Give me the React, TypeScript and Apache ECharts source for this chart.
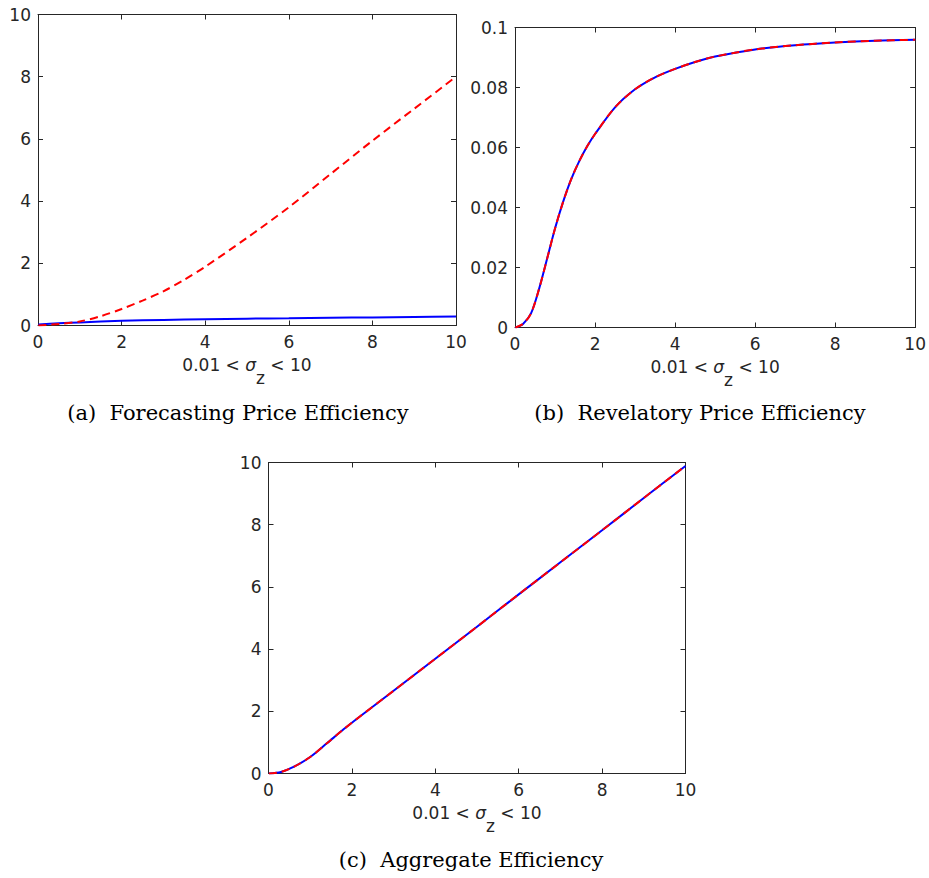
import React, { useEffect, useRef } from 'react';
import * as echarts from 'echarts';

// Panel (a): Forecasting Price Efficiency
const aRedX = [0.01, 0.5, 1, 1.5, 2, 2.5, 3, 3.5, 4, 5, 6, 7, 8, 9, 10];
const aRedY = [0, 0.05, 0.13, 0.3, 0.53, 0.8, 1.1, 1.47, 1.89, 2.82, 3.8, 4.87, 5.94, 6.97, 8.0];
const aBlueX = [0.01, 0.5, 1, 2, 3, 4, 5, 6, 7, 8, 9, 10];
const aBlueY = [0.03, 0.07, 0.1, 0.15, 0.18, 0.2, 0.22, 0.235, 0.25, 0.26, 0.275, 0.29];

// Panel (b): Revelatory Price Efficiency (both curves coincide)
const bX = [0.01, 0.2, 0.4, 0.6, 0.8, 1, 1.2, 1.4, 1.6, 1.8, 2, 2.5, 3, 3.5, 4, 4.5, 5, 6, 7, 8, 9, 10];
const bY = [0, 0.0012, 0.0047, 0.0128, 0.0228, 0.033, 0.0418, 0.0493, 0.0553, 0.0603, 0.0645, 0.0734, 0.0794, 0.0834, 0.0862, 0.0885, 0.0903, 0.0927, 0.0941, 0.095, 0.0956, 0.0959];

// Panel (c): Aggregate Efficiency (both curves coincide)
const cX = [0.01, 0.3, 0.6, 1, 1.4, 1.8, 2.2, 3, 4, 5, 6, 7, 8, 9, 10];
const cY = [0, 0.05, 0.21, 0.53, 0.97, 1.42, 1.84, 2.66, 3.69, 4.72, 5.76, 6.79, 7.82, 8.86, 9.89];

const xMin = 0, xMax = 10, xStep = 2;
const captions = ['(a)  Forecasting Price Efficiency', '(b)  Revelatory Price Efficiency', '(c)  Aggregate Efficiency'];
const xLabelName = '{t|0.01 < }{s|σ}{z|z}{t| < 10}';

const zip = (xs: number[], ys: number[]) => xs.map((x, i) => [x, ys[i]]);

const AX = '#262626';
const SANS = '"DejaVu Sans", "Liberation Sans", sans-serif';
const SERIF = '"DejaVu Serif", "Liberation Serif", serif';

export default function App() {
  const ref = useRef<HTMLDivElement>(null);
  useEffect(() => {
    if (!ref.current) return;
    const chart = echarts.init(ref.current, null, { renderer: 'svg' });

    const grids = [
      { left: 38, top: 14.5, width: 418, height: 311 },
      { left: 515, top: 27.5, width: 402.5, height: 300 },
      { left: 268.5, top: 462.5, width: 417, height: 311 },
    ];
    const yCfg = [
      { max: 10, interval: 2 },
      { max: 0.1, interval: 0.02 },
      { max: 10, interval: 2 },
    ];
    const lineStyle = { color: AX, width: 1 };
    const tick = { show: true, inside: true, length: 5, lineStyle };
    const xAxis: any[] = [];
    const yAxis: any[] = [];
    grids.forEach((_, i) => {
      xAxis.push({
        gridIndex: i, type: 'value', min: xMin, max: xMax, interval: xStep, position: 'bottom',
        axisLine: { show: true, onZero: false, lineStyle }, axisTick: tick,
        axisLabel: { show: true, margin: 8, color: AX, fontSize: 17, fontFamily: SANS },
        splitLine: { show: false },
        name: xLabelName, nameLocation: 'middle', nameGap: 31,
        nameTextStyle: {
          color: AX, fontSize: 17, fontFamily: SANS,
          rich: {
            t: { color: AX, fontSize: 17, fontFamily: SANS, lineHeight: 20, verticalAlign: 'top' },
            s: { color: AX, fontSize: 17, fontFamily: SANS, fontStyle: 'italic', lineHeight: 20, verticalAlign: 'top' },
            z: { color: AX, fontSize: 17, fontFamily: SANS, lineHeight: 20, verticalAlign: 'top', padding: [13, 0, 0, 0] },
          },
        },
      });
      xAxis.push({
        gridIndex: i, type: 'value', min: xMin, max: xMax, interval: xStep, position: 'top',
        axisLine: { show: true, onZero: false, lineStyle }, axisTick: tick,
        axisLabel: { show: false }, splitLine: { show: false },
      });
      const fmt = (v: number) => String(+v.toFixed(3));
      yAxis.push({
        gridIndex: i, type: 'value', min: 0, max: yCfg[i].max, interval: yCfg[i].interval, position: 'left',
        axisLine: { show: true, onZero: false, lineStyle }, axisTick: tick,
        axisLabel: { show: true, margin: 7, color: AX, fontSize: 17, fontFamily: SANS, formatter: fmt },
        splitLine: { show: false },
      });
      yAxis.push({
        gridIndex: i, type: 'value', min: 0, max: yCfg[i].max, interval: yCfg[i].interval, position: 'right',
        axisLine: { show: true, onZero: false, lineStyle }, axisTick: tick,
        axisLabel: { show: false }, splitLine: { show: false },
      });
    });

    const mk = (i: number, data: number[][], color: string, dashed: boolean) => ({
      type: 'line', xAxisIndex: i * 2, yAxisIndex: i * 2, data,
      showSymbol: false, symbol: 'none', smooth: 0.3, clip: true,
      lineStyle: { color, width: 2, type: dashed ? [8, 5] : 'solid' },
      z: dashed ? 3 : 2,
    });

    const series = [
      mk(0, zip(aBlueX, aBlueY), '#0000ff', false),
      mk(0, zip(aRedX, aRedY), '#ff0000', true),
      mk(1, zip(bX, bY), '#0000ff', false),
      mk(1, zip(bX, bY), '#ff0000', true),
      mk(2, zip(cX, cY), '#0000ff', false),
      mk(2, zip(cX, cY), '#ff0000', true),
    ];

    const capPos = [[238, 413], [700, 413], [471, 860]];
    const graphic = captions.map((text, i) => ({
      type: 'text', x: capPos[i][0], y: capPos[i][1],
      style: {
        text, fill: '#000', fontSize: 21, fontFamily: SERIF,
        align: 'center', verticalAlign: 'middle', textAlign: 'center', textVerticalAlign: 'middle',
      },
    }));

    chart.setOption({
      animation: false,
      backgroundColor: '#ffffff',
      grid: grids.map((g) => ({ ...g, containLabel: false })),
      xAxis, yAxis, series, graphic,
    });
    return () => chart.dispose();
  }, []);
  return <div ref={ref} style={{ position: 'absolute', left: 0, top: 0, width: 929, height: 878 }} />;
}
